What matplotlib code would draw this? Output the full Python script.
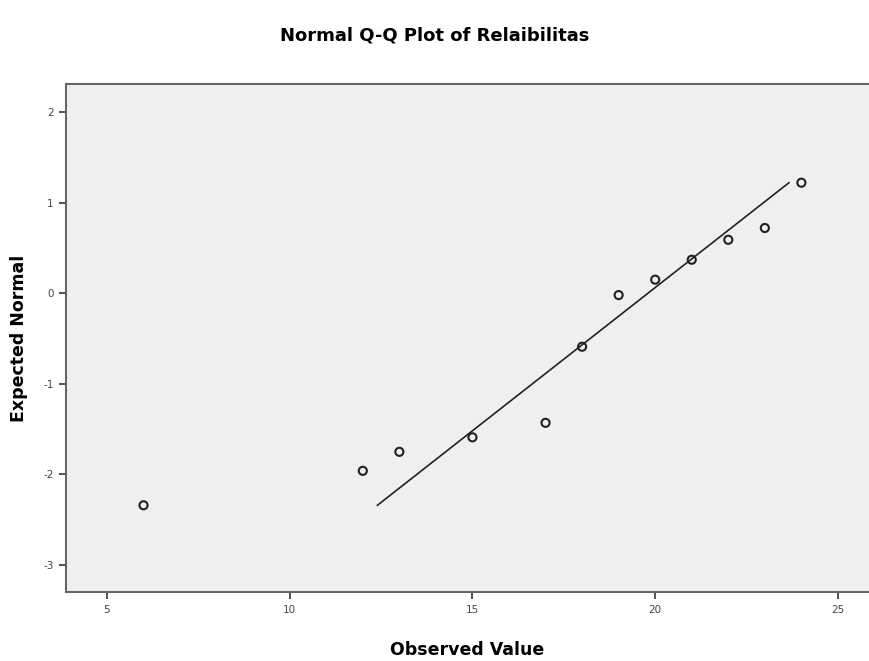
import matplotlib
matplotlib.use("Agg")
import matplotlib.pyplot as plt

plt.rcParams['font.family'] = ['DejaVu Sans']
plt.rcParams['axes.unicode_minus'] = False

# observed values and their expected normal scores
observed = [6, 12, 13, 15, 17, 18, 19, 20, 21, 22, 23, 24]
expected = [-2.34, -1.96, -1.75, -1.59, -1.43, -0.59, -0.02, 0.15, 0.37, 0.59, 0.72, 1.22]

# reference line endpoints
line_x = [12.40, 23.66]
line_y = [-2.34, 1.22]

x_ticks = [5, 10, 15, 20, 25]
y_ticks = [-3, -2, -1, 0, 1, 2]

fig = plt.figure(figsize=(8.69, 6.61), dpi=100)
ax = fig.add_axes([0.076, 0.104, 0.924, 0.769])
ax.set_facecolor("#efefef")

ax.plot(line_x, line_y, color="#222222", linewidth=1.2, zorder=2)
ax.scatter(observed, expected, s=34, facecolors="none", edgecolors="#222222",
           linewidths=1.5, zorder=3)

ax.set_xlim(3.88, 25.85)
ax.set_ylim(-3.30, 2.31)
ax.set_xticks(x_ticks)
ax.set_yticks(y_ticks)
ax.tick_params(axis="both", direction="out", length=5, width=1.2, color="#333333",
               labelsize=7.5, labelcolor="#444444", pad=4)

for side in ["left", "bottom", "top"]:
    ax.spines[side].set_color("#666666")
    ax.spines[side].set_linewidth(1.5)
ax.spines["right"].set_visible(False)

ax.set_xlabel("Observed Value", fontsize=12.5, fontweight="bold", labelpad=19)
ax.set_ylabel("Expected Normal", fontsize=12.5, fontweight="bold", labelpad=11)
fig.text(0.5, 0.946, "Normal Q-Q Plot of Relaibilitas", ha="center", va="center",
         fontsize=13, fontweight="bold")

fig.savefig("out.png", dpi=100)
